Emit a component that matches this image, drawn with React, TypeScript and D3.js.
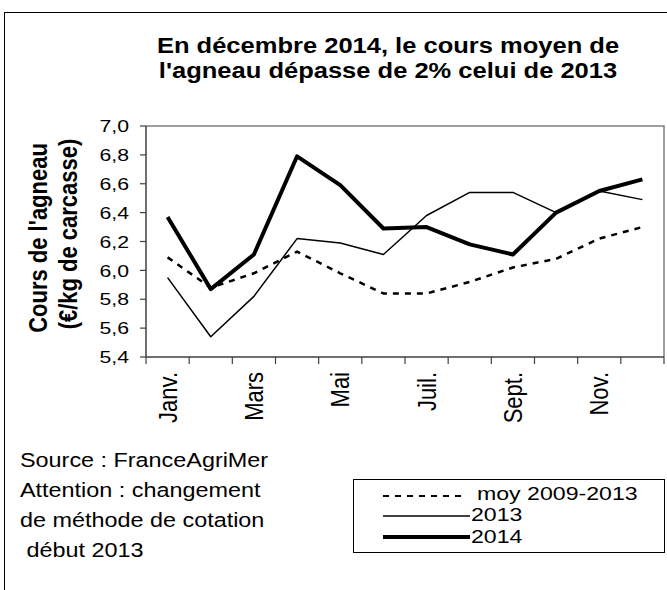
import React from 'react';
import * as d3 from 'd3';

const months = ['Janv.', 'Févr.', 'Mars', 'Avr.', 'Mai', 'Juin', 'Juil.', 'Août', 'Sept.', 'Oct.', 'Nov.', 'Déc.'];
const yTicks = [5.4, 5.6, 5.8, 6.0, 6.2, 6.4, 6.6, 6.8, 7.0];
const moy0913 = [6.09, 5.88, 5.98, 6.13, 5.98, 5.84, 5.84, 5.92, 6.02, 6.08, 6.22, 6.30];
const y2013 = [5.95, 5.54, 5.82, 6.22, 6.19, 6.11, 6.38, 6.54, 6.54, 6.40, 6.55, 6.49];
const y2014 = [6.37, 5.87, 6.11, 6.79, 6.59, 6.29, 6.30, 6.18, 6.11, 6.40, 6.55, 6.63];
const seriesNames = ['moy 2009-2013', '2013', '2014'];
const noteLines = ['Source : FranceAgriMer', 'Attention : changement', 'de méthode de cotation', ' début 2013'];

const W = 667;
const H = 590;
const FONT = '"Liberation Sans", Arial, sans-serif';
const SX = 1.16; // the original picture is a bit stretched sideways

// text stretched horizontally, optional rotation
function T({ x, y, rot = 0, sx = SX, children, ...rest }: any) {
  return (
    <text
      transform={`translate(${x},${y}) scale(${sx},1)${rot ? ` rotate(${rot})` : ''}`}
      fontFamily={FONT}
      fill="#000"
      style={{ whiteSpace: 'pre' }}
      {...rest}
    >
      {children}
    </text>
  );
}

export default function App() {
  const x = d3.scaleBand().domain(months).range([146, 664]).paddingInner(0).paddingOuter(0);
  const y = d3.scaleLinear().domain([5.4, 7.0]).range([357, 126]);
  const bw = x.bandwidth();
  const cx = (m: string) => (x(m) as number) + bw / 2;

  const line = d3
    .line<number>()
    .x((_, i) => cx(months[i]))
    .y((d) => y(d));

  const xEdges = months.map((m) => x(m) as number).concat([x.range()[1]]);

  const styles = [
    { dash: '6,6', width: 2.5 },
    { dash: undefined, width: 1.5 },
    { dash: undefined, width: 4 },
  ];
  const series = [moy0913, y2013, y2014];

  return (
    <svg width={W} height={H} style={{ position: 'absolute', left: 0, top: 0, background: '#fff' }}>
      <rect x={4.5} y={12.5} width={720} height={700} fill="#fff" stroke="#000" strokeWidth={1} />

      {/* title */}
      <T x={388} y={53} textAnchor="middle" fontSize={22} fontWeight="bold">
        En décembre 2014, le cours moyen de
      </T>
      <T x={388} y={78} textAnchor="middle" fontSize={22} fontWeight="bold">
        l'agneau dépasse de 2% celui de 2013
      </T>

      {/* plot frame */}
      <path d={`M146,126H664V357`} fill="none" stroke="#808080" strokeWidth={1.5} />

      {/* series */}
      {series.map((s, i) => (
        <path
          key={i}
          d={line(s) || ''}
          fill="none"
          stroke="#000"
          strokeWidth={styles[i].width}
          strokeDasharray={styles[i].dash}
          strokeLinejoin="round"
        />
      ))}

      {/* y axis */}
      <line x1={146} x2={146} y1={y(7.0)} y2={y(5.4)} stroke="#404040" strokeWidth={1.5} />
      {yTicks.map((t) => (
        <g key={t}>
          <line x1={140} x2={146} y1={y(t)} y2={y(t)} stroke="#404040" strokeWidth={1.2} />
          <T x={129} y={y(t)} dy="0.36em" textAnchor="end" fontSize={17} sx={1.25}>
            {t.toFixed(1).replace('.', ',')}
          </T>
        </g>
      ))}

      {/* x axis */}
      <line x1={146} x2={664} y1={357} y2={357} stroke="#404040" strokeWidth={1.5} />
      {xEdges.map((e, i) => (
        <line key={i} x1={e} x2={e} y1={357} y2={364} stroke="#404040" strokeWidth={1.2} />
      ))}
      {months.map((m, i) =>
        i % 2 === 0 ? (
          <T key={m} x={cx(m)} y={372} rot={-90} dy="0.36em" textAnchor="end" fontSize={22}>
            {m}
          </T>
        ) : null
      )}

      {/* y title */}
      <T x={47} y={238} rot={-90} textAnchor="middle" fontSize={22} fontWeight="bold">
        Cours de l'agneau
      </T>
      <T x={77} y={234} rot={-90} textAnchor="middle" fontSize={22} fontWeight="bold">
        (€/kg de carcasse)
      </T>

      {/* notes */}
      {noteLines.map((l, i) => (
        <T key={i} x={20} y={467 + i * 30} fontSize={19.5} sx={1.2}>
          {l}
        </T>
      ))}

      {/* legend */}
      <rect x={353.5} y={479.5} width={311} height={73} fill="#fff" stroke="#000" strokeWidth={1} />
      {seriesNames.map((n, i) => {
        const ly = [496, 516, 537][i];
        return (
          <g key={n}>
            <line
              x1={383}
              x2={i === 0 ? 466 : 470}
              y1={ly}
              y2={ly}
              stroke="#000"
              strokeWidth={styles[i].width === 2.5 ? 2 : styles[i].width}
              strokeDasharray={styles[i].dash}
            />
            <T x={i === 0 ? 477 : 471} y={[500, 521, 543][i]} fontSize={18.5} sx={1.25}>
              {n}
            </T>
          </g>
        );
      })}
    </svg>
  );
}
